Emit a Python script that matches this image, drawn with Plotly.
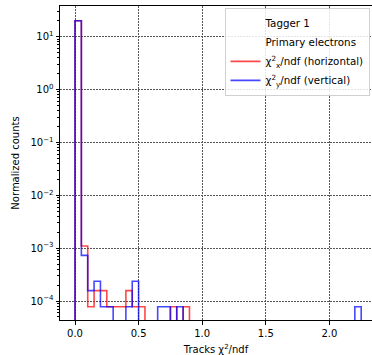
import plotly.graph_objects as go

# ---- data (normalized counts per bin, bin width 0.05 from 0 to 2.25) ----
bin_width = 0.05
n_bins = 45
red_values = [20.0, 1.1e-3, 7.8e-5, 1.57e-4, 1.57e-4, 7.8e-5, 7.8e-5, 7.8e-5, 1.57e-4, 7.8e-5,
              7.8e-5, 0, 0, 0, 0, 7.8e-5, 0, 7.8e-5, 0, 0,
              0, 0, 0, 0, 0, 0, 0, 0, 0, 0,
              0, 0, 0, 0, 0, 0, 0, 0, 0, 0,
              0, 0, 0, 0, 0]
blue_values = [20.0, 7.3e-4, 1.57e-4, 2.36e-4, 7.8e-5, 7.8e-5, 0, 0, 7.8e-5, 2.36e-4,
               0, 0, 0, 7.8e-5, 7.8e-5, 0, 7.8e-5, 0, 0, 0,
               0, 0, 0, 0, 0, 0, 0, 0, 0, 0,
               0, 0, 0, 0, 0, 0, 0, 0, 0, 0,
               0, 0, 0, 0, 7.8e-5]
red_name = "χ<sup>2</sup><sub>x</sub>/ndf (horizontal)"
blue_name = "χ<sup>2</sup><sub>y</sub>/ndf (vertical)"
legend_header = ["Tagger 1", "Primary electrons"]
x_ticks = [0.0, 0.5, 1.0, 1.5, 2.0]
y_ticks = [1e-4, 1e-3, 1e-2, 1e-1, 1, 10]
y_ticktext = ["10<sup>−4</sup>", "10<sup>−3</sup>", "10<sup>−2</sup>", "10<sup>−1</sup>",
              "10<sup>0</sup>", "10<sup>1</sup>"]

FLOOR = 1e-7  # empty bins drop below the axis (clipped), as in a log step histogram
edges = [i * bin_width for i in range(n_bins + 1)]


def step_xy(values):
    xs = [edges[0]] + edges
    ys = [FLOOR] + [v if v > 0 else FLOOR for v in values] + [FLOOR]
    return xs, ys


FONT = "DejaVu Sans"
fig = go.Figure()

for name in legend_header:
    fig.add_trace(go.Scatter(x=[None], y=[None], mode="lines", name=name,
                             line=dict(color="rgba(0,0,0,0)", width=2), showlegend=True))

for vals, name, col in [(red_values, red_name, "rgba(255,0,0,0.72)"),
                        (blue_values, blue_name, "rgba(0,0,255,0.72)")]:
    xs, ys = step_xy(vals)
    fig.add_trace(go.Scatter(x=xs, y=ys, mode="lines", line_shape="hv", name=name,
                             line=dict(color=col, width=1.6)))

minor_vals = [k * 10 ** e for e in range(-5, 2) for k in range(2, 10)]

fig.update_layout(
    width=372, height=355,
    margin=dict(l=60, r=0, t=6, b=35),
    paper_bgcolor="white", plot_bgcolor="white",
    font=dict(family=FONT, size=10, color="black"),
    legend=dict(x=0.992, y=0.994, xanchor="right", yanchor="top",
                bgcolor="rgba(255,255,255,0.85)", bordercolor="#d0d0d0", borderwidth=1,
                font=dict(family=FONT, size=10.3), itemwidth=30, tracegroupgap=0),
    showlegend=True,
)
fig.update_xaxes(
    range=[-0.1179, 2.335], tickvals=x_ticks, tickformat=".1f",
    ticks="outside", ticklen=3.5, tickcolor="black", showline=True, linecolor="black",
    linewidth=1, mirror=True, showgrid=True, gridcolor="#555", griddash="1.5px,1.5px",
    gridwidth=1, zeroline=False,
    title=dict(text="Tracks χ<sup>2</sup>/ndf", font=dict(size=10), standoff=8),
    tickfont=dict(size=10),
)
fig.update_yaxes(
    type="log", range=[-4.359, 1.580], tickvals=y_ticks, ticktext=y_ticktext,
    ticks="outside", ticklen=3.5, tickcolor="black", showline=True, linecolor="black",
    linewidth=1, mirror=False, showgrid=True, gridcolor="#555", griddash="1.5px,1.5px",
    gridwidth=1, zeroline=False,
    minor=dict(tickvals=minor_vals, ticks="outside", ticklen=2, tickcolor="black",
               showgrid=False),
    title=dict(text="Normalized counts", font=dict(size=10), standoff=8),
    tickfont=dict(size=10),
)

fig.write_html("out.html")
